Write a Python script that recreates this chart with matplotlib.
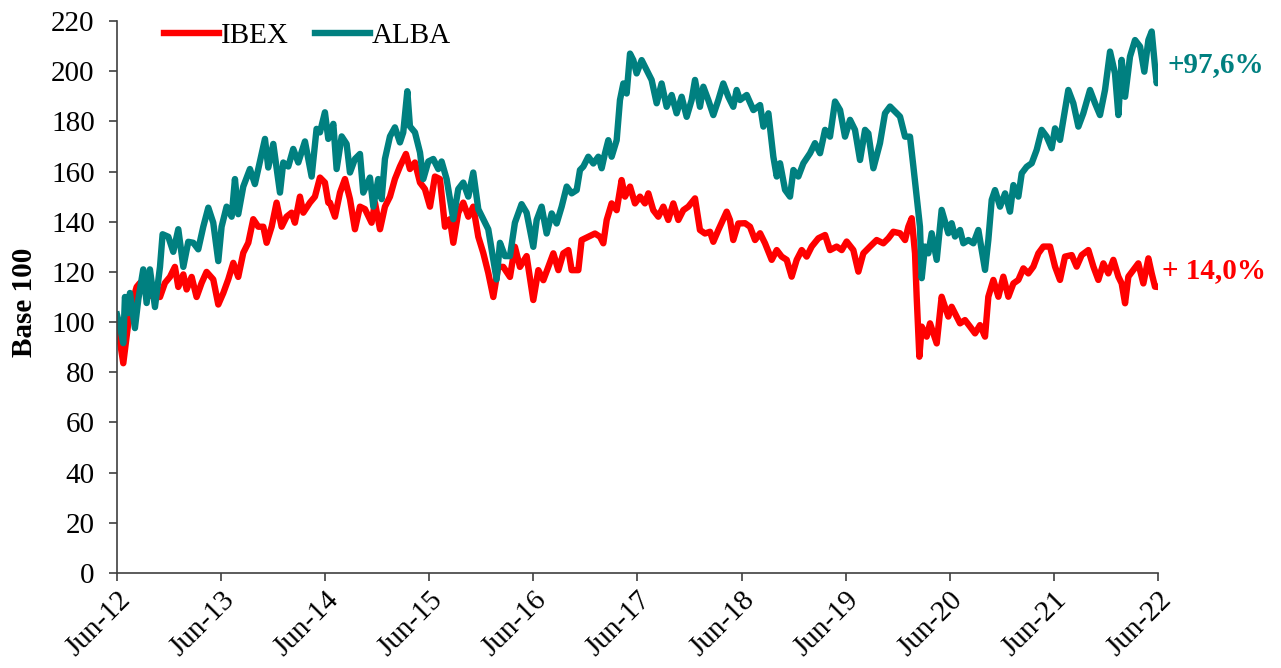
import matplotlib
matplotlib.use('Agg')
import matplotlib.pyplot as plt

# 坐标：自 2012 年 6 月起的月份数；数值：以 100 为基准
ibex_months = [0, 0.73, 1.11, 1.50, 2.27, 2.65, 3.42, 4.19, 4.96, 5.53, 6.11, 6.68, 7.07, 7.65, 8.03,
               8.61, 9.18, 9.76, 10.33, 11.10, 11.68, 12.26, 12.83, 13.41, 13.98, 14.56, 15.14, 15.71,
               16.29, 16.87, 17.25, 17.83, 18.40, 18.98, 19.55, 20.13, 20.51, 21.09, 21.48, 22.24,
               22.82, 23.40, 23.97, 24.36, 24.55, 25.13, 25.71, 26.28, 26.86, 27.43, 28.01, 28.59,
               29.35, 29.74, 30.32, 30.89, 31.47, 32.04, 32.62, 33.31, 33.77, 34.35, 34.93, 35.50,
               36.08, 36.65, 37.23, 37.81, 38.38, 38.77, 39.34, 39.92, 40.50, 41.07, 41.65, 42.22,
               42.80, 43.38, 43.95, 44.53, 45.30, 45.87, 46.45, 47.22, 47.99, 48.57, 49.15, 49.72,
               50.30, 50.88, 51.45, 52.03, 52.41, 53.18, 53.56, 54.33, 55.10, 55.68, 56.06, 56.45,
               57.02, 57.60, 58.17, 58.56, 59.14, 59.71, 60.29, 60.86, 61.25, 61.82, 62.40, 62.98,
               63.55, 64.13, 64.71, 65.28, 65.86, 66.63, 67.20, 67.78, 68.36, 68.74, 69.32, 70.28,
               70.66, 71.04, 71.62, 72.40, 72.97, 73.55, 74.13, 74.70, 75.47, 76.05, 76.62, 77.20,
               77.77, 78.35, 78.93, 79.50, 80.08, 80.85, 81.62, 82.19, 82.96, 83.54, 84.11, 84.88,
               85.46, 86.03, 86.80, 87.57, 88.34, 88.92, 89.49, 90.26, 90.84, 91.22, 91.61, 91.99,
               92.18, 92.49, 92.76, 93.33, 93.72, 94.10, 94.49, 95.06, 95.45, 95.83, 96.21, 96.79,
               97.18, 97.75, 98.33, 98.91, 99.48, 100.06, 100.44, 101.02, 101.60, 102.17, 102.75,
               103.33, 103.90, 104.48, 105.05, 105.63, 106.21, 106.78, 107.55, 108.13, 108.70,
               109.28, 110.05, 110.62, 111.20, 111.97, 112.55, 113.12, 113.70, 114.27, 114.85,
               115.43, 115.81, 116.20, 116.58, 117.16, 117.73, 118.31, 118.89, 119.27, 119.65, 120.0]
ibex_values = [100, 83.6, 94, 105, 114, 115.6, 111.6, 110, 110, 115.6, 118, 122, 114, 119, 113,
               118, 110, 115.6, 120, 117, 107, 111.6, 117, 123.6, 118, 127.6, 131.6, 141,
               138, 138, 131.6, 138, 147.6, 138, 142, 143.6, 139.6, 150, 143.6, 147.6,
               150, 157.6, 155.6, 147.6, 147.6, 142, 151.6, 157, 149, 137, 146, 145,
               139.6, 147.6, 137, 146, 150, 157, 162, 167, 161, 163.6, 155.6, 153,
               146, 158, 157, 138, 141, 131.6, 143.6, 147.6, 142, 146, 134, 127.6,
               119.6, 110, 122, 122, 118, 130, 122, 126.3, 108.8, 120.7, 116.7, 122,
               127.4, 120.7, 127.4, 128.7, 120.7, 120.7, 132.7, 134, 135.3, 134, 131.4, 140.7,
               147.3, 144.6, 156.6, 150, 154, 147.3, 150, 147.3, 151.3, 144.6, 142, 146,
               140.7, 147.3, 140.7, 144.6, 146, 149.3, 136.7, 135.3, 136, 132, 136.7, 144,
               140.7, 132.7, 139.3, 139.4, 138, 132.7, 135.4, 131.4, 124.8, 128.7, 126.1, 124.8,
               118.1, 124.8, 128.7, 126.1, 130.1, 133.4, 134.7, 128.7, 130.1, 128.7, 132.1, 128.7,
               120.1, 127.4, 130.1, 132.7, 131.4, 133.4, 136, 135.4, 132.7, 138, 141.4, 127.4,
               110.1, 86.2, 98.2, 94.2, 99.5, 95.5, 91.5, 110.1, 106, 102.2, 106.1, 102.2,
               99.5, 100.8, 98.2, 95.5, 98.8, 94.2, 110.1, 116.8, 110.1, 118.1, 110.1,
               115.4, 116.8, 121.4, 119.4, 122.1, 127.4, 130.1, 130.1, 122.1, 116.8,
               126.1, 126.7, 122.1, 126.7, 128.7, 122.1, 116.8, 123.4, 119.4, 124.8,
               118.1, 115.4, 107.5, 118.1, 120.8, 123.4, 115.4, 125.4, 119.4, 114.1, 114.0]

alba_months = [0, 0.35, 0.73, 0.92, 1.31, 1.50, 2.07, 2.46, 3.03, 3.42, 3.80, 4.38, 4.96, 5.26, 5.92,
               6.49, 7.07, 7.65, 8.22, 8.80, 9.37, 9.95, 10.53, 11.10, 11.68, 12.06, 12.64, 13.22,
               13.60, 13.98, 14.56, 15.33, 15.90, 16.48, 17.06, 17.44, 18.02, 18.79, 19.17, 19.75,
               20.32, 20.90, 21.67, 22.44, 23.01, 23.40, 23.97, 24.36, 24.94, 25.32, 25.90, 26.47,
               26.86, 27.43, 28.01, 28.39, 29.16, 29.55, 30.12, 30.51, 30.89, 31.47, 32.04, 32.62,
               33.00, 33.47, 33.77, 34.35, 34.93, 35.31, 35.89, 36.46, 37.04, 37.42, 38.00, 38.77,
               39.34, 39.92, 40.50, 41.07, 41.65, 42.22, 42.80, 43.18, 43.76, 44.15, 44.72, 45.30,
               45.87, 46.64, 47.22, 47.99, 48.38, 48.95, 49.53, 50.11, 50.68, 51.26, 51.84, 52.41,
               52.99, 53.37, 53.76, 54.33, 54.91, 55.49, 55.87, 56.25, 56.64, 57.02, 57.60, 57.98,
               58.37, 58.75, 59.14, 59.52, 59.90, 60.48, 61.06, 61.63, 62.21, 62.78, 63.36, 63.94,
               64.51, 65.09, 65.67, 66.24, 66.63, 67.20, 67.59, 68.16, 68.74, 69.32, 69.89, 70.47,
               71.04, 71.43, 71.82, 72.59, 73.36, 74.13, 74.51, 75.09, 75.66, 76.05, 76.43, 77.01,
               77.58, 77.97, 78.54, 79.12, 79.89, 80.46, 81.04, 81.62, 82.19, 82.77, 83.35, 83.92,
               84.50, 85.07, 85.65, 86.23, 86.61, 87.19, 87.95, 88.53, 89.11, 89.68, 90.26, 90.84,
               91.41, 91.80, 92.18, 92.56, 92.76, 93.14, 93.53, 93.91, 94.49, 95.06, 95.83, 96.21,
               96.60, 97.18, 97.56, 98.14, 98.72, 99.29, 99.68, 100.06, 100.44, 100.83, 101.21,
               101.79, 102.37, 102.94, 103.33, 103.90, 104.29, 104.86, 105.44, 106.01, 106.59,
               107.17, 107.74, 108.13, 108.70, 109.28, 109.66, 110.24, 110.82, 111.39, 112.16,
               112.74, 113.31, 113.89, 114.47, 115.04, 115.43, 115.81, 116.20, 116.77, 117.35,
               117.93, 118.42, 118.89, 119.27, 119.65, 119.85, 120.0]
alba_values = [103, 98, 91.6, 110, 103.6, 111.6, 97.6, 109, 121, 107.6, 121, 106, 122, 135, 134,
               128, 137, 122, 132, 131.6, 129, 138, 145.6, 139.6, 124.3, 138, 146, 142,
               157, 143, 154, 161, 155, 164, 173, 161.6, 171, 151.6, 163.6, 162,
               169, 163.6, 172, 158, 177, 175.6, 183.6, 173, 179, 161, 174, 171,
               159.6, 165, 167, 151.6, 157.6, 146, 157, 149, 165, 174, 177.6, 171.6,
               175.6, 192, 178, 175.6, 167.6, 157, 164, 165, 161, 164, 157, 141,
               153, 155.6, 150, 159.6, 145, 141, 137, 129, 117, 131.6, 126.3, 126.3,
               139.6, 147, 143.6, 130, 140.7, 146, 135.3, 143.3, 139.3, 146, 154, 151.3,
               152.6, 160.6, 162, 165.9, 163.2, 165.9, 161.3, 167.2, 172.5, 165.9, 172.5, 188.5,
               195.1, 191.1, 207, 204.4, 199.1, 204.4, 200.4, 196.5, 187.2, 195.1, 185.8, 190.5,
               183.2, 189.8, 181.8, 188.5, 196.5, 185.8, 193.8, 188.5, 182.5, 188.5, 195.1, 189.8,
               185.8, 192.5, 188.5, 190.5, 184.5, 186.5, 177.9, 183.2, 165.9, 158, 163.3, 152.7,
               150, 160.6, 158, 163.3, 167.3, 171.3, 167.3, 176.6, 173.9, 187.9, 184.5, 173.9,
               180.6, 176.6, 164.6, 176.6, 175.2, 161.3, 171.3, 183.2, 185.9, 183.9, 181.9, 173.9,
               173.9, 162, 150, 138, 117.5, 130.1, 127.4, 135.4, 124.8, 144.7, 135.4, 139.4,
               134.1, 136.7, 131.4, 132.7, 131.4, 136.7, 128.7, 120.8, 132.7, 148.7, 152.6,
               146, 151.3, 144, 154.6, 150, 159.3, 161.9, 163.3, 168.6, 176.6,
               173.9, 169.3, 177.2, 172.6, 184.5, 192.5, 187.2, 177.9, 183.2, 192.5,
               187.2, 182.5, 192.5, 207.8, 199.1, 182.5, 204.5, 189.8, 205.8, 212.4,
               209.8, 199.8, 212.4, 215.8, 201.8, 195.2, 197.6]

tick_months = [0, 12, 24, 36, 48, 60, 72, 84, 96, 108, 120]
tick_labels = ['Jun-12', 'Jun-13', 'Jun-14', 'Jun-15', 'Jun-16', 'Jun-17',
               'Jun-18', 'Jun-19', 'Jun-20', 'Jun-21', 'Jun-22']
alba_label, ibex_label = '+97,6%', '+ 14,0%'

RED = '#FF0000'
TEAL = '#008080'

plt.rcParams['font.family'] = ['Liberation Serif', 'DejaVu Serif']
plt.rcParams['font.size'] = 21

fig = plt.figure(figsize=(12.81, 6.68), dpi=100)
ax = fig.add_axes([0.0913, 0.1422, 0.8127, 0.8264])

ax.plot(ibex_months, ibex_values, color=RED, lw=4.6, label='IBEX', solid_joinstyle='round')
ax.plot(alba_months, alba_values, color=TEAL, lw=4.6, label='ALBA', solid_joinstyle='round')

ax.set_xlim(0, 120)
ax.set_ylim(0, 220)
ax.set_yticks(range(0, 221, 20))
ax.set_xticks(tick_months)
ax.set_xticklabels(tick_labels, rotation=45, ha='right', rotation_mode='anchor')

for s in ['top', 'right']:
    ax.spines[s].set_visible(False)
for s in ['left', 'bottom']:
    ax.spines[s].set_color('#404040')
    ax.spines[s].set_linewidth(1.2)
ax.tick_params(axis='both', direction='out', length=6, width=1.2, color='#404040')
ax.tick_params(axis='y', pad=10)
ax.tick_params(axis='x', pad=4)

ax.set_ylabel('Base 100', fontweight='bold')
ax.yaxis.set_label_coords(-0.076, 0.49)

ax.legend(loc='upper left', bbox_to_anchor=(0.02, 1.045), ncol=2, frameon=False,
          handlelength=1.9, handletextpad=0.05, columnspacing=0.9)

# 末端的涨幅标注
ax.annotate(alba_label, xy=(alba_months[-1], 202.5), xytext=(7, 0), textcoords='offset points',
            color=TEAL, fontweight='bold', fontsize=21, ha='left', va='center', annotation_clip=False)
ax.annotate(ibex_label, xy=(ibex_months[-1], 120.4), xytext=(3, 0), textcoords='offset points',
            color=RED, fontweight='bold', fontsize=21, ha='left', va='center', annotation_clip=False)

fig.savefig('out.png', dpi=100)
